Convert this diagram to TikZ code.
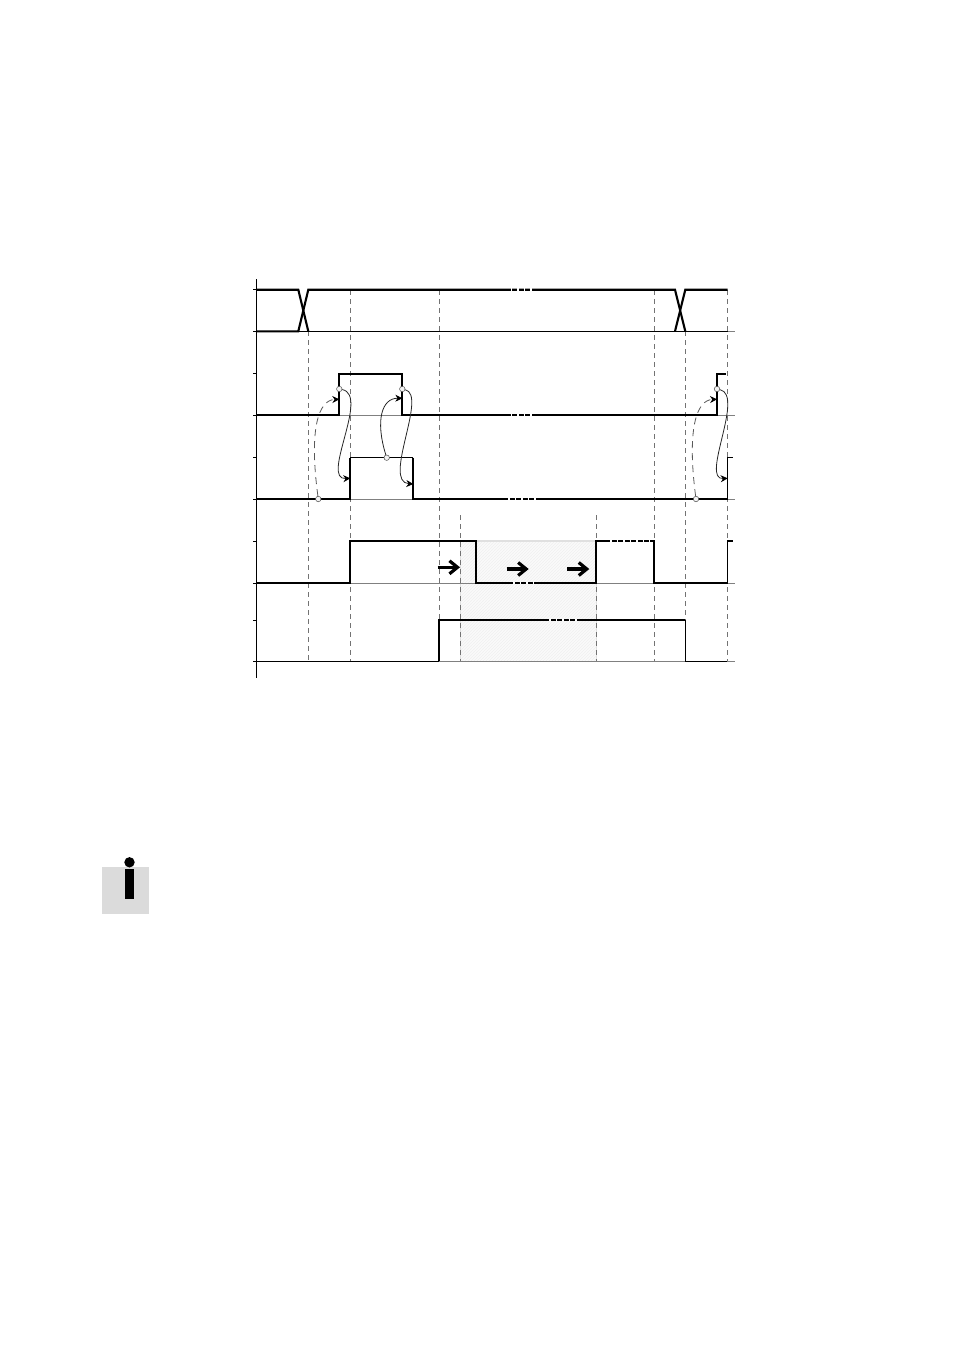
\documentclass[tikz,border=0pt]{standalone}
\usepackage{tikz}
\usetikzlibrary{arrows.meta,positioning,calc,patterns}
\tikzset{
  sig/.style={line width=2.1pt, line join=miter},
  sigthin/.style={line width=1.3pt},
  base/.style={line width=0.9pt, black!50},
  tick/.style={line width=0.9pt},
  guide/.style={line width=0.8pt, black!55, dash pattern=on 5pt off 4pt},
  brk/.style={white, line width=2.6pt, dash pattern=on 1.5pt off 5pt},
  dot/.style={draw=black!70, circle, fill=black!5, minimum size=5.5pt, inner sep=0pt, line width=0.5pt},
  link/.style={-{Stealth[length=7pt,width=7pt,color=black]}, line width=0.8pt, black!85},
  dlink/.style={-{Stealth[length=7pt,width=7pt,color=black]}, line width=0.8pt, black!65, dash pattern=on 7pt off 5pt},
  dir/.style={-{Straight Barb[length=8pt,width=13pt]}, line width=3.2pt},
}
\begin{document}
\begin{tikzpicture}[x=1pt,y=-1pt]
\useasboundingbox (0,0) rectangle (954,1348);
% shaded window
\fill[black!2] (460.3,541) rectangle (596.3,661.3);
\fill[pattern=north east lines, pattern color=black!6] (460.3,541) rectangle (596.3,661.3);
\draw[black!12, line width=1.5pt] (460.3,661.3) -- (460.3,541) -- (596.3,541);
\draw[black!12, line width=1.5pt] (596.3,583) -- (596.3,661.3);
% guides
\foreach \gx/\gy in {308.3/331,350.3/290,439.3/290,654.3/290,685.3/331,727.7/290,460.3/515,596.3/515}
  \draw[guide] (\gx,\gy) -- (\gx,661.3);
% axis and ticks
\draw[tick] (256.5,279) -- (256.5,678);
\foreach \ty in {289.7,331.3,373.7,415,457.7,499,541,583,620,661.3}
  \draw[tick] (253,\ty) -- (256.5,\ty);
\draw[line width=0.9pt] (256.5,331.3) -- (727.7,331.3);
\draw[base] (727.7,331.3) -- (735,331.3);
\foreach \ty in {415,499,583,661.3}
  \draw[base] (256.5,\ty) -- (735,\ty);
% row 1
\draw[sig] (256.5,289.7) -- (298.3,289.7) -- (308.3,331.3);
\draw[sig] (256.5,331.3) -- (298.3,331.3) -- (308.3,289.7) -- (675,289.7) -- (685.3,331.3);
\draw[sig] (675,331.3) -- (685.3,289.7) -- (727.7,289.7);
% row 2
\draw[sig] (256.5,415) -- (339.3,415) -- (339.3,373.7) -- (402.3,373.7) -- (402.3,415) -- (717,415) -- (717,373.7) -- (725.7,373.7);
% row 3
\draw[sig] (256.5,499) -- (350.3,499) -- (350.3,457.7);
\draw[sigthin] (350.3,457.7) -- (413.3,457.7);
\draw[sig] (413.3,457.7) -- (413.3,499) -- (727.7,499);
\draw[sigthin] (727.7,499) -- (727.7,457.7) -- (733,457.7);
% row 4
\draw[sig] (256.5,583) -- (350.3,583) -- (350.3,541) -- (476,541) -- (476,583) -- (596.3,583) -- (596.3,541) -- (654.3,541) -- (654.3,583) -- (727.7,583);
\draw[sigthin] (727.7,583) -- (727.7,541) -- (733,541);
% row 5
\draw[line width=0.9pt] (256.5,661.3) -- (439.3,661.3);
\draw[sig] (439.3,661.3) -- (439.3,620) -- (685.3,620);
\draw[sigthin] (685.3,620) -- (685.3,661.3) -- (727,661.3);
% breaks
\draw[brk] (510.7,289.7) -- (535,289.7);
\draw[brk] (510.7,415) -- (535,415);
\draw[brk] (508,499) -- (537.7,499);
\draw[brk] (513,583) -- (537.7,583);
\draw[brk] (610,541) -- (650,541);
\draw[brk] (549,620) -- (580.7,620);
% direction arrows
\coordinate (d1a) at (437.7,567.3);
\coordinate (d1b) at (460,567.3);
\coordinate (d2a) at (506.7,569);
\coordinate (d2b) at (528.7,569);
\coordinate (d3a) at (567,569);
\coordinate (d3b) at (589.3,569);
\draw[dir] (d1a) -- (d1b);
\draw[dir] (d2a) -- (d2b);
\draw[dir] (d3a) -- (d3b);
% cause and effect
\coordinate (t1) at (339.3,399.3);
\coordinate (t2) at (350.3,478.3);
\coordinate (t3) at (402.3,398.3);
\coordinate (t4) at (413.3,484);
\coordinate (t5) at (717,399.3);
\coordinate (t6) at (727.7,478.3);
\node[dot] (s1) at (318.3,499) {};
\node[dot] (r1) at (339.3,389) {};
\node[dot] (s2) at (386.7,457.7) {};
\node[dot] (f1) at (402.3,389) {};
\node[dot] (s3) at (696,499) {};
\node[dot] (r2) at (717,389) {};
\draw[dlink] (s1) .. controls (309,430) and (318,400) .. (t1);
\draw[link] (r1) .. controls (370,395) and (320,480) .. (t2);
\draw[link] (s2) .. controls (375,420) and (382,398) .. (t3);
\draw[link] (f1) .. controls (428,395) and (382,482) .. (t4);
\draw[dlink] (s3) .. controls (687,430) and (696,400) .. (t5);
\draw[link] (r2) .. controls (745,395) and (700,480) .. (t6);
% info mark
\fill[black!14] (102,867) rectangle (149.3,913.7);
\fill[black] (129.5,862.3) circle (5.2);
\fill[black] (125,869) rectangle (134.3,899.3);
\end{tikzpicture}
\end{document}
